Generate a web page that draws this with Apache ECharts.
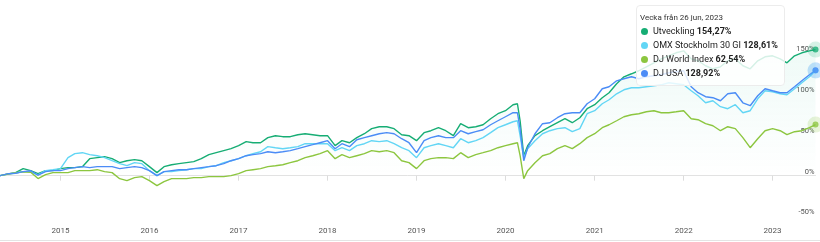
<!DOCTYPE html>
<html>
<head>
<meta charset="utf-8">
<style>
html,body{margin:0;padding:0;background:#fff;}
#c{width:820px;height:242px;}
</style>
<script src="https://cdn.jsdelivr.net/npm/echarts@6/dist/echarts.min.js"></script>
</head>
<body>
<div id="c"></div>
<script>
const dates = ['2014-04-28','2014-06-01','2014-07-01','2014-08-01','2014-09-01','2014-10-01','2014-11-01','2014-12-01',
'2015-01-01','2015-02-01','2015-03-01','2015-04-01','2015-05-01','2015-06-01','2015-07-01','2015-08-01','2015-09-01','2015-10-01','2015-11-01','2015-12-01',
'2016-01-01','2016-02-01','2016-03-01','2016-04-01','2016-05-01','2016-06-01','2016-07-01','2016-08-01','2016-09-01','2016-10-01','2016-11-01','2016-12-01',
'2017-01-01','2017-02-01','2017-03-01','2017-04-01','2017-05-01','2017-06-01','2017-07-01','2017-08-01','2017-09-01','2017-10-01','2017-11-01','2017-12-01',
'2018-01-01','2018-02-01','2018-03-01','2018-04-01','2018-05-01','2018-06-01','2018-07-01','2018-08-01','2018-09-01','2018-10-01','2018-11-01','2018-12-01',
'2019-01-01','2019-02-01','2019-03-01','2019-04-01','2019-05-01','2019-06-01','2019-07-01','2019-08-01','2019-09-01','2019-10-01','2019-11-01','2019-12-01',
'2020-01-01','2020-02-01','2020-02-19','2020-03-01','2020-03-16','2020-04-01','2020-05-01','2020-06-01','2020-07-01','2020-08-01','2020-09-01','2020-10-01','2020-11-01','2020-12-01',
'2021-01-01','2021-02-01','2021-03-01','2021-04-01','2021-05-01','2021-06-01','2021-07-01','2021-08-01','2021-09-01','2021-10-01','2021-11-01','2021-12-01',
'2022-01-01','2022-02-01','2022-03-01','2022-04-01','2022-05-01','2022-06-01','2022-07-01','2022-08-01','2022-09-01','2022-10-01','2022-11-01','2022-12-01',
'2023-01-01','2023-02-01','2023-03-01','2023-04-01','2023-05-01','2023-06-01','2023-06-26'];

const utveckling = [0,2.1,3.7,8.6,6.1,2.5,6.1,6.1,
8.6,9.8,9.8,11.0,20.8,22.0,23.2,20.8,15.9,18.3,19.6,18.3,
11.0,3.7,11.0,13.4,14.7,15.9,17.1,20.8,25.7,28.1,30.6,33.0,
36.7,41.6,40.3,40.3,46.5,48.9,47.7,47.7,50.1,51.3,50.1,48.9,
48.9,36.7,42.8,40.3,46.5,51.3,57.5,59.9,59.9,57.5,50.1,48.9,
42.8,52.6,55.0,58.7,55.0,48.9,63.6,58.7,59.9,62.3,69.7,75.8,
79.5,86.8,88.0,67.2,24.4,36.7,48.9,55.0,59.9,64.8,69.7,64.8,70.9,81.9,
86.8,95.4,101.5,112.5,121.0,124.7,128.4,133.2,138.1,143.0,146.7,150.4,
152.8,143.0,140.6,134.5,130.8,133.2,140.6,143.0,134.5,130.8,140.6,145.5,
146.7,143.0,138.1,146.7,150.4,152.8,154.27];

const omx = [0,1.8,3.2,4.9,4.5,1.0,6.1,7.3,
8.6,22.0,26.9,28.1,25.7,24.4,22.0,18.3,14.7,12.2,15.9,14.7,
6.1,0.0,4.9,4.9,6.1,7.3,8.6,8.6,11.0,12.2,15.9,18.3,
20.8,24.4,26.9,29.3,35.5,34.2,33.0,34.2,35.5,39.1,39.1,39.1,
39.1,30.6,34.2,30.6,36.7,39.1,42.8,41.6,42.8,39.1,34.2,30.6,
22.0,34.2,36.7,39.1,36.7,34.2,45.2,40.3,42.8,46.5,52.6,58.7,
62.3,66.0,67.2,48.9,22.0,33.0,42.8,51.3,55.0,57.5,58.7,53.8,57.5,75.8,
79.5,88.0,92.9,100.2,105.1,107.6,107.6,108.8,110.0,111.2,113.7,112.5,
111.2,103.9,97.8,89.2,91.7,84.4,81.9,86.8,77.0,79.5,94.1,103.9,
102.7,100.2,99.0,106.4,113.7,121.0,128.61];

const djWorld = [0,2.0,3.5,4.6,4.2,-3.5,1.2,3.7,
3.7,3.7,6.1,6.1,6.1,7.3,4.9,3.7,-3.7,-6.1,-2.4,-1.2,
-6.1,-12.2,-7.3,-3.7,-3.7,-3.7,-2.4,-2.4,-1.2,-1.2,-1.2,0.0,
2.4,6.1,7.3,8.6,11.0,12.2,13.4,15.9,18.3,22.0,24.4,26.9,
30.6,20.8,25.7,22.0,24.4,26.9,30.6,29.3,30.6,28.1,18.3,15.9,
8.6,18.3,20.8,22.0,22.0,20.8,28.1,22.0,25.7,28.1,30.6,34.2,
36.7,39.1,40.3,24.4,-3.7,6.1,15.9,24.4,26.9,33.0,36.7,33.0,39.1,46.5,
51.3,58.7,62.3,67.2,72.1,74.6,75.8,78.2,79.5,77.0,77.0,78.2,
79.5,69.7,68.5,63.6,61.1,55.0,59.9,57.5,46.5,34.2,45.2,55.0,
57.5,55.0,50.1,53.8,55.0,58.7,62.54];

const djUsa = [0,2.4,3.0,4.9,6.0,0.5,4.9,6.1,
6.1,8.6,9.8,11.0,9.8,11.0,11.0,11.0,8.6,9.8,11.0,9.8,
6.1,0.0,4.9,6.1,7.3,7.3,8.6,9.8,11.0,12.2,14.7,18.3,
20.8,24.4,25.7,26.9,29.3,28.1,29.3,30.6,33.0,35.5,37.9,40.3,
42.8,33.0,39.1,35.5,44.0,46.5,48.9,51.3,52.6,51.3,45.2,40.3,
28.1,42.8,46.5,48.9,46.5,46.5,55.0,51.3,53.8,56.2,62.3,67.2,
72.1,77.0,77.0,57.5,18.3,34.2,51.3,63.6,64.8,70.9,75.8,77.0,77.0,88.0,
94.1,106.4,108.8,116.1,118.6,121.0,118.6,121.0,122.3,123.5,125.9,127.1,
128.4,108.8,101.5,96.6,95.4,91.7,100.2,101.5,89.2,85.6,97.8,106.4,
103.9,101.5,101.5,108.8,116.1,123.5,128.92];

const seriesNames = ['Utveckling','OMX Stockholm 30 GI','DJ World Index','DJ USA'];
const seriesColors = ['#16ad74','#62d6f5','#8cc63f','#4b8cf6'];
const haloColors = ['rgba(22,173,116,0.22)','rgba(98,214,245,0.25)','rgba(140,198,63,0.25)','rgba(75,140,246,0.25)'];
const yTicks = [-50,0,50,100,150];
const monthsSv = ['jan','feb','mar','apr','maj','jun','jul','aug','sep','okt','nov','dec'];

const allValues = [utveckling, omx, djWorld, djUsa];
const toTs = s => new Date(s + 'T00:00:00').getTime();
const last = dates.length - 1;

const lineSeries = allValues.map((vals, i) => {
  const s = {
    name: seriesNames[i],
    type: 'line',
    symbol: 'none',
    data: vals.map((v, k) => [toTs(dates[k]), v]),
    lineStyle: {width: 1.4, color: seriesColors[i]},
    itemStyle: {color: seriesColors[i]},
    emphasis: {disabled: true},
    z: 2
  };
  if (i === 0) {
    s.areaStyle = {
      color: new echarts.graphic.LinearGradient(0, 0, 0, 1, [
        {offset: 0, color: 'rgba(40,190,150,0.11)'},
        {offset: 1, color: 'rgba(40,190,150,0.0)'}
      ])
    };
  }
  return s;
});

const endSeries = allValues.map((vals, i) => ({
  name: seriesNames[i] + ' end',
  type: 'scatter',
  data: [[toTs(dates[last]), vals[last]]],
  symbolSize: 6,
  itemStyle: {color: seriesColors[i], borderColor: haloColors[i], borderWidth: 10},
  emphasis: {disabled: true},
  silent: true,
  z: 3
}));

const fmtPct = v => v.toFixed(2).replace('.', ',') + '%';

const chart = echarts.init(document.getElementById('c'), null, {renderer: 'canvas'});
chart.setOption({
  animation: false,
  textStyle: {fontFamily: 'Roboto'},
  grid: {left: 0, right: 4.5, top: 0, bottom: 25.5, containLabel: false},
  xAxis: {
    type: 'time',
    min: toTs(dates[0]),
    max: toTs(dates[last]),
    minInterval: 365 * 86400000,
    maxInterval: 366 * 86400000,
    axisLine: {lineStyle: {color: '#e2e2e2', width: 1}},
    axisTick: {show: true, length: 5, lineStyle: {color: '#dcdcdc'}},
    splitLine: {show: false},
    axisLabel: {
      color: '#555', fontSize: 8, margin: 10, fontFamily: 'Roboto',
      showMinLabel: false, showMaxLabel: false,
      formatter: function (v) {
        const d = new Date(v);
        return (d.getMonth() === 0 && d.getDate() === 1) ? String(d.getFullYear()) : '';
      }
    }
  },
  yAxis: {
    type: 'value',
    position: 'right',
    min: -50,
    max: 215,
    interval: 50,
    splitLine: {show: false},
    axisLine: {show: false},
    axisTick: {show: false},
    axisLabel: {
      inside: true, margin: 1, color: '#555', fontSize: 7.5, fontFamily: 'Roboto',
      verticalAlign: 'bottom',
      formatter: v => (yTicks.indexOf(v) >= 0 ? v + '%' : '')
    }
  },
  tooltip: {
    trigger: 'axis',
    alwaysShowContent: true,
    position: [636, 5],
    transitionDuration: 0,
    axisPointer: {type: 'none'},
    backgroundColor: 'rgba(255,255,255,0.82)',
    borderColor: '#ececec',
    borderWidth: 1,
    padding: [5, 6, 5, 3],
    textStyle: {fontFamily: 'Roboto', fontSize: 9, color: '#222'},
    extraCssText: 'box-shadow:none;border-radius:4px;line-height:14px;',
    formatter: function (params) {
      const p0 = params[0];
      const d = new Date(p0.value[0]);
      let html = '<div style="font-size:8px;color:#333;line-height:13px;height:13px;">Vecka från ' +
        d.getDate() + ' ' + monthsSv[d.getMonth()] + ', ' + d.getFullYear() + '</div>';
      params.filter(p => p.seriesIndex < 4).forEach(p => {
        html += '<div style="white-space:nowrap;height:14px;line-height:14px;">' +
          '<span style="display:inline-block;width:7px;height:7px;border-radius:50%;background:' +
          seriesColors[p.seriesIndex] + ';margin:0 5px 0 1px;vertical-align:-0.5px;"></span>' +
          seriesNames[p.seriesIndex] + ' <b>' + fmtPct(p.value[1]) + '</b></div>';
      });
      return html;
    }
  },
  graphic: [{
    type: 'line', shape: {x1: 0, y1: 240.5, x2: 820, y2: 240.5},
    style: {stroke: '#e4e4e4', lineWidth: 1}, silent: true
  }],
  series: lineSeries.concat(endSeries)
});

function show() {
  chart.dispatchAction({type: 'showTip', seriesIndex: 0, dataIndex: last});
}
show();
setTimeout(show, 30);
</script>
</body>
</html>
